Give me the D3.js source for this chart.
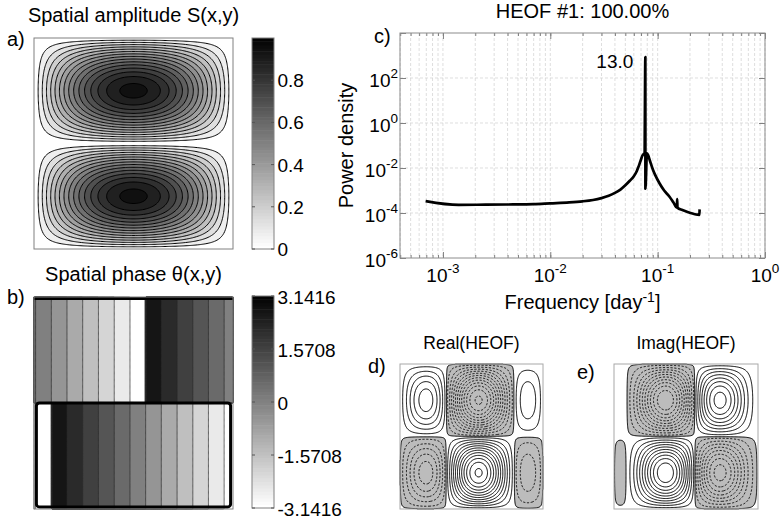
<!DOCTYPE html>
<html><head><meta charset="utf-8">
<script src="https://cdn.jsdelivr.net/npm/d3@7"></script>
<style>
body{margin:0;background:#fff;}
svg{display:block;}
text{font-family:"Liberation Sans",Arial,Helvetica,sans-serif;fill:#000;}
</style></head><body>
<svg id="chart" width="782" height="525"></svg>
<script>
// ================= DATA =================
// Amplitude profile along x (21 samples, x = 0 .. 1)
const ampXProfile = [0,0.153,0.303,0.445,0.576,0.693,0.793,0.873,0.932,0.968,0.98,0.968,0.932,0.873,0.793,0.693,0.576,0.445,0.303,0.153,0];
// Signed amplitude profile along y (21 samples, top .. bottom)
const ampYProfile = [0,0.309,0.588,0.809,0.951,1,0.951,0.809,0.588,0.309,0,-0.309,-0.588,-0.809,-0.951,-1,-0.951,-0.809,-0.588,-0.309,0];
// Unwrapped spatial phase along x (11 samples, x = 0 .. 1), radians
const phaseXProfile = [6.86,6.20,5.53,4.87,4.21,3.55,2.88,2.22,1.56,0.89,0.23];

const amplitudeLevels = [0,0.0625,0.125,0.1875,0.25,0.3125,0.375,0.4375,0.5,0.5625,0.625,0.6875,0.75,0.8125,0.875,0.9375];
const amplitudeTicks = [0,0.2,0.4,0.6,0.8];
const phaseLevels = [-3.1416,-2.618,-2.0944,-1.5708,-1.0472,-0.5236,0,0.5236,1.0472,1.5708,2.0944,2.618];
const phaseTicks = [-3.1416,-1.5708,0,1.5708,3.1416];
const heofLevels = [0.05,0.13,0.21,0.29,0.37,0.45,0.53,0.61,0.69,0.77,0.85,0.93];

// Power spectrum of the HEOF time coefficient
const spectrumFreq  = [6.9e-4,1.4e-3,2.5e-3,4.5e-3,7e-3,1.0e-2,1.5e-2,2.0e-2,2.5e-2,3.0e-2,3.5e-2,4.0e-2,4.5e-2,5.0e-2,5.5e-2,6.0e-2,6.4e-2,6.6e-2,6.8e-2,7.0e-2,7.2e-2,7.45e-2,7.55e-2,7.68e-2,7.69e-2,7.95e-2,8.13e-2,8.5e-2,9.06e-2,9.5e-2,0.104,0.115,0.129,0.14,0.151,0.152,0.153,0.17,0.19,0.215,0.235,0.245,0.246];
const spectrumPower = [3.4e-4,2.3e-4,2.35e-4,2.4e-4,2.5e-4,2.7e-4,2.95e-4,3.3e-4,3.8e-4,4.6e-4,5.8e-4,7.8e-4,1.1e-3,1.7e-3,2.7e-3,4.3e-3,7.4e-3,1.07e-2,1.6e-2,2.4e-2,3.5e-2,4.3e-2,4.6e-2,850,1.2e-3,4.5e-2,3.8e-2,2.0e-2,8.2e-3,4.8e-3,2.1e-3,1.0e-3,5.3e-4,3.0e-4,1.75e-4,4.2e-4,1.7e-4,1.35e-4,1.1e-4,9.2e-5,8.4e-5,8.3e-5,1.45e-4];
const freqTicks = [1e-3,1e-2,1e-1,1];
const freqTickExp = ["-3","-2","-1","0"];
const powerTicks = [1e-6,1e-4,1e-2,1,1e2];
const powerTickExp = ["-6","-4","-2","0","2"];
const peakLabel = "13.0";
const peakFreq = 7.68e-2;

// ================= LAYOUT =================
const svg = d3.select("#chart");
const PA = {x0:34,x1:233,y0:38,y1:249};
const CBA = {x0:252,x1:274,y0:38,y1:249};
const PB = {x0:34,x1:233,y0:297,y1:509};
const CBB = {x0:252,x1:274,y0:296,y1:508};
const PC = {x0:400,x1:765,y0:33,y1:258};
const PD = {x0:400,x1:543,y0:364,y1:509};
const PE = {x0:614,x1:758,y0:364,y1:509};
const FS = 19;      // tick labels
const FT = 20;      // titles / axis labels
const FL = 20;      // panel letters

// ================= FIELDS =================
const N = 180;
const fx = d3.interpolateBasis(ampXProfile);
const fy = d3.interpolateBasis(ampYProfile);
const fp = d3.interpolateBasis(phaseXProfile);
const re = new Float64Array(N*N), im = new Float64Array(N*N), amp = new Float64Array(N*N), phase = new Float64Array(N*N);
const nre = new Float64Array(N*N), nim = new Float64Array(N*N);
for (let j=0;j<N;j++) for (let i=0;i<N;i++) {
  const u=(i+0.5)/N, v=(j+0.5)/N, k=j*N+i;
  const a = fx(u)*fy(v), p = fp(u);
  re[k]=a*Math.cos(p); im[k]=a*Math.sin(p);
  nre[k]=-re[k]; nim[k]=-im[k];
  amp[k]=Math.hypot(re[k],im[k]);
  phase[k]=Math.atan2(im[k],re[k]);
}
const contours = d3.contours().size([N,N]);
function gridPath(P){
  const sx=d3.scaleLinear([0,N],[P.x0,P.x1]), sy=d3.scaleLinear([0,N],[P.y0,P.y1]);
  return d3.geoPath(d3.geoTransform({point(x,y){this.stream.point(sx(x),sy(y));}}));
}
function frame(P, color){
  svg.append("rect").attr("x",P.x0).attr("y",P.y0).attr("width",P.x1-P.x0).attr("height",P.y1-P.y0)
    .attr("fill","none").attr("stroke",color).attr("stroke-width",1);
}
function txt(x,y,s,anchor,size){
  return svg.append("text").attr("x",x).attr("y",y).attr("text-anchor",anchor||"start")
    .attr("font-size",size||FS).text(s);
}

// ================= PANEL A =================
const ampColor = d3.scaleLinear([0,1],["#ffffff","#000000"]);
{
  const path = gridPath(PA);
  const g = svg.append("g");
  amplitudeLevels.forEach(t=>{
    g.append("path").attr("d",path(contours.contour(amp,t)))
      .attr("fill",ampColor(t)).attr("stroke",t>0?"#000":"none").attr("stroke-width",1);
  });
  frame(PA,"#808080");
  const cy = d3.scaleLinear([0,1],[CBA.y1,CBA.y0]);
  const steps = d3.range(64).map(k=>k/64);
  svg.append("g").selectAll("rect").data(steps).join("rect")
    .attr("x",CBA.x0).attr("width",CBA.x1-CBA.x0)
    .attr("y",d=>cy(d+1/64)).attr("height",d=>cy(d)-cy(d+1/64)+0.5)
    .attr("fill",d=>ampColor(d));
  frame(CBA,"#808080");
  amplitudeTicks.forEach(t=>{
    svg.append("line").attr("x1",CBA.x0).attr("x2",CBA.x0+3).attr("y1",cy(t)).attr("y2",cy(t)).attr("stroke","#555");
    svg.append("line").attr("x1",CBA.x1-3).attr("x2",CBA.x1).attr("y1",cy(t)).attr("y2",cy(t)).attr("stroke","#555");
    txt(CBA.x1+3.5,cy(t)+7,String(t));
  });
  txt((PA.x0+PA.x1)/2,22,"Spatial amplitude S(x,y)","middle",FT);
  txt(7,46,"a)","start",FL);
}

// ================= PANEL B =================
const phaseColor = d3.scaleLinear([-Math.PI,Math.PI],["#ffffff","#000000"]);
{
  const path = gridPath(PB);
  const g = svg.append("g");
  phaseLevels.forEach((t,idx)=>{
    g.append("path").attr("d",path(contours.contour(phase,idx===0?-Math.PI:t)))
      .attr("fill",phaseColor(t)).attr("stroke",idx>0?"#2a2a2a":"none").attr("stroke-width",0.7);
  });
  const sx=d3.scaleLinear([0,1],[PB.x0,PB.x1]), sy=d3.scaleLinear([0,1],[PB.y0,PB.y1]);
  g.append("line").attr("x1",sx(0)).attr("x2",sx(1)).attr("y1",sy(0)+1.5).attr("y2",sy(0)+1.5)
    .attr("stroke","#000").attr("stroke-width",3);
  g.append("rect").attr("x",sx(0.012)).attr("y",sy(0.5)).attr("width",sx(0.988)-sx(0.012))
    .attr("height",sy(0.99)-sy(0.5)).attr("rx",3)
    .attr("fill","none").attr("stroke","#000").attr("stroke-width",3);
  frame(PB,"#808080");
  const cy = d3.scaleLinear([-Math.PI,Math.PI],[CBB.y1,CBB.y0]);
  const dv = 2*Math.PI/64;
  const steps = d3.range(64).map(k=>-Math.PI+k*dv);
  svg.append("g").selectAll("rect").data(steps).join("rect")
    .attr("x",CBB.x0).attr("width",CBB.x1-CBB.x0)
    .attr("y",d=>cy(d+dv)).attr("height",d=>cy(d)-cy(d+dv)+0.5)
    .attr("fill",d=>phaseColor(d));
  frame(CBB,"#808080");
  phaseTicks.forEach(t=>{
    svg.append("line").attr("x1",CBB.x0).attr("x2",CBB.x0+3).attr("y1",cy(t)).attr("y2",cy(t)).attr("stroke","#555");
    svg.append("line").attr("x1",CBB.x1-3).attr("x2",CBB.x1).attr("y1",cy(t)).attr("y2",cy(t)).attr("stroke","#555");
    txt(CBB.x1+3.5,cy(t)+8,t===0?"0":t.toFixed(4));
  });
  txt((PB.x0+PB.x1)/2,281,"Spatial phase θ(x,y)","middle",FT);
  txt(7,304,"b)","start",FL);
}

// ================= PANEL C =================
{
  const xS = d3.scaleLog([Math.pow(10,-3.4),1],[PC.x0,PC.x1]);
  const yS = d3.scaleLog([1e-6,1e4],[PC.y1,PC.y0]);
  const minor = [];
  [-4,-3,-2,-1].forEach(d=>{ for(let k=1;k<10;k++){ const f=k*Math.pow(10,d); if(f>=xS.domain()[0]*0.999 && f<=1) minor.push(f);} });
  minor.push(1);
  const gridG = svg.append("g");
  minor.forEach(f=>{
    gridG.append("line").attr("x1",xS(f)).attr("x2",xS(f)).attr("y1",PC.y0).attr("y2",PC.y1)
      .attr("stroke","#d0d0d0").attr("stroke-width",0.7).attr("stroke-dasharray","3,2");
  });
  [1e-4,1e-2,1,1e2].forEach(p=>{
    gridG.append("line").attr("x1",PC.x0).attr("x2",PC.x1).attr("y1",yS(p)).attr("y2",yS(p))
      .attr("stroke","#d0d0d0").attr("stroke-width",0.7).attr("stroke-dasharray","3,2");
  });
  const tickStyle = g=>{ g.select(".domain").remove(); g.selectAll("line").attr("stroke","#808080"); g.selectAll("text").remove(); };
  svg.append("g").attr("transform",`translate(0,${PC.y1})`).call(d3.axisBottom(xS).tickValues(minor).tickSize(-3).tickFormat("")).call(tickStyle);
  svg.append("g").attr("transform",`translate(0,${PC.y1})`).call(d3.axisBottom(xS).tickValues(freqTicks).tickSize(-6).tickFormat("")).call(tickStyle);
  svg.append("g").attr("transform",`translate(0,${PC.y0})`).call(d3.axisTop(xS).tickValues(minor).tickSize(-3).tickFormat("")).call(tickStyle);
  svg.append("g").attr("transform",`translate(0,${PC.y0})`).call(d3.axisTop(xS).tickValues(freqTicks).tickSize(-6).tickFormat("")).call(tickStyle);
  const yTickVals = powerTicks.concat([1e4]);
  svg.append("g").attr("transform",`translate(${PC.x0},0)`).call(d3.axisLeft(yS).tickValues(yTickVals).tickSize(-6).tickFormat("")).call(tickStyle);
  svg.append("g").attr("transform",`translate(${PC.x1},0)`).call(d3.axisRight(yS).tickValues(yTickVals).tickSize(-6).tickFormat("")).call(tickStyle);
  frame(PC,"#8c8c8c");

  const pts = spectrumFreq.map((f,i)=>[f,spectrumPower[i]]);
  svg.append("path").datum(pts)
    .attr("d",d3.line().x(d=>xS(d[0])).y(d=>yS(d[1])).curve(d3.curveMonotoneX))
    .attr("fill","none").attr("stroke","#000").attr("stroke-width",2.7)
    .attr("stroke-linejoin","round").attr("stroke-linecap","butt");

  freqTicks.forEach((f,i)=>{
    const t = svg.append("text").attr("x",xS(f)).attr("y",282).attr("text-anchor","middle").attr("font-size",FS);
    t.append("tspan").text("10");
    t.append("tspan").attr("dy",-9).attr("font-size",13.5).text(freqTickExp[i]);
  });
  powerTicks.forEach((p,i)=>{
    const t = svg.append("text").attr("x",PC.x0-2).attr("y",yS(p)+8.5).attr("text-anchor","end").attr("font-size",FS);
    t.append("tspan").text("10");
    t.append("tspan").attr("dy",-9).attr("font-size",13.5).text(powerTickExp[i]);
  });
  const xl = svg.append("text").attr("x",(PC.x0+PC.x1)/2).attr("y",309).attr("text-anchor","middle").attr("font-size",FT);
  xl.append("tspan").text("Frequency [day");
  xl.append("tspan").attr("dy",-7).attr("font-size",14).text("-1");
  xl.append("tspan").attr("dy",7).text("]");
  svg.append("text").attr("transform",`translate(353,${(PC.y0+PC.y1)/2}) rotate(-90)`)
    .attr("text-anchor","middle").attr("font-size",FT).text("Power density");
  txt((PC.x0+PC.x1)/2,18,"HEOF #1: 100.00%","middle",FT);
  txt(374,43,"c)","start",FL);
  txt(xS(peakFreq)-12,68,peakLabel,"end",FS);
}

// ================= PANELS D & E =================
function heofPanel(F, NF, P, title, label, labelX, labelY){
  const path = gridPath(P);
  const g = svg.append("g");
  g.append("path").attr("d",path(contours.contour(NF,0.006)))
    .attr("fill","#bcbcbc").attr("stroke","#000").attr("stroke-width",1);
  heofLevels.forEach(t=>{
    g.append("path").attr("d",path(contours.contour(F,t)))
      .attr("fill","none").attr("stroke","#000").attr("stroke-width",1);
    g.append("path").attr("d",path(contours.contour(NF,t)))
      .attr("fill","none").attr("stroke","#000").attr("stroke-width",0.9).attr("stroke-dasharray","2.2,1.6");
  });
  frame(P,"#a8a8a8");
  txt((P.x0+P.x1)/2,349,title,"middle",17.5);
  txt(labelX,labelY,label,"start",FL);
}
heofPanel(re, nre, PD, "Real(HEOF)", "d)", 368, 373);
heofPanel(im, nim, PE, "Imag(HEOF)", "e)", 577, 379);
</script>
</body></html>
